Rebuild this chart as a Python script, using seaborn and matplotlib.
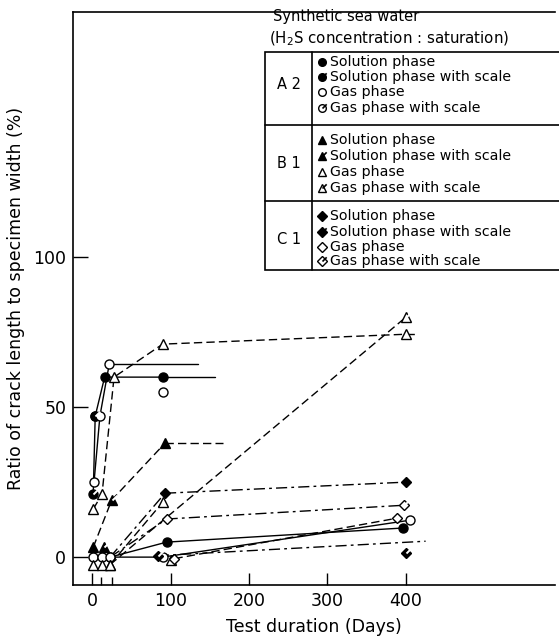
import numpy as np
import pandas as pd
import seaborn as sns
import matplotlib.pyplot as plt
from matplotlib.patches import Rectangle

# values (days, crack ratio %)
# A2 -- circles
a2_sol_days = [4, 16, 90]
a2_sol_vals = [47, 60, 60]
a2_sol_tail = 157
a2_solsc_days = [1.5, 4]
a2_solsc_vals = [21, 47]
a2_gas_days = [2.5, 10, 22]
a2_gas_vals = [25, 47, 64.5]
a2_gas_tail = 135
a2_gas_lone_days = [90]
a2_gas_lone_vals = [55]
a2_sol_low_days = [23, 95, 396]
a2_sol_low_vals = [0, 5, 9.7]
a2_gas_low_days = [1.5, 12.7, 23, 90, 405]
a2_gas_low_vals = [0, 0, 0, 0, 12.3]

# B1 -- triangles
b1_sol_days = [1.5, 25, 93]
b1_sol_vals = [3.3, 19, 38]
b1_sol_tail = 167
b1_solsc_days = [15]
b1_solsc_vals = [3.3]
b1_gas_days = [1.5, 12.7, 28, 90, 400]
b1_gas_vals = [16, 21, 60, 71, 74.3]
b1_gas_tail = 414
b1_gas_mid_days = [23, 90]
b1_gas_mid_vals = [-2.5, 18.3]
b1_gas_low_days = [1.5, 12.7, 100]
b1_gas_low_vals = [-2.5, -2.5, -1]
b1_gassc_days = [23, 400]
b1_gassc_vals = [-2.5, 80]

# C1 -- diamonds
c1_sol_days = [23, 93, 400]
c1_sol_vals = [0, 21.3, 25]
c1_solsc_days = [84, 425]
c1_solsc_vals = [0.5, 5.3]
c1_solsc_lone_days = [400]
c1_solsc_lone_vals = [1.3]
c1_gas_days = [23, 95, 398]
c1_gas_vals = [0, 12.7, 17.3]
c1_gas_low_days = [105, 389]
c1_gas_low_vals = [-0.5, 13]

x_ticks = [0, 100, 200, 300, 400]
x_minor = [12, 25]
y_ticks = [0, 50, 100]

legend_groups = ["A 2", "B 1", "C 1"]
legend_entries = ["Solution phase", "Solution phase with scale",
                  "Gas phase", "Gas phase with scale"]

sns.set_style("white")
plt.rcParams["font.family"] = ["DejaVu Sans"]
plt.rcParams["text.color"] = "black"
plt.rcParams["axes.labelcolor"] = "black"
plt.rcParams["xtick.color"] = "black"
plt.rcParams["ytick.color"] = "black"

fig = plt.figure(figsize=(5.59, 6.37), dpi=100)
ax = fig.add_axes([0.131, 0.0816, 0.862, 0.8995])

SCALE = [(0, 0), (1, 1)]
DASH = (0, (6, 3))
DASHDOT = (0, (8, 3, 2, 3))


def series(days, vals, marker, filled, ls, ms=6.5, tail=None):
    face = "black" if filled else "white"
    sns.lineplot(x=days, y=vals, ax=ax, sort=False, estimator=None,
                 color="black", lw=1.0, linestyle=ls, marker=marker,
                 markersize=ms, markerfacecolor=face, markeredgecolor="black",
                 markeredgewidth=1.0, zorder=3)
    if tail is not None:
        sns.lineplot(x=[days[-1], tail], y=[vals[-1], vals[-1]], ax=ax,
                     sort=False, estimator=None, color="black", lw=1.0,
                     linestyle=ls, zorder=2)


def scale_tick(days, vals):
    sns.lineplot(x=days, y=vals, ax=ax, sort=False, estimator=None,
                 color="black", linestyle="none", marker=SCALE,
                 markersize=7, markeredgewidth=1.4, zorder=4)


# A2
series(a2_sol_days, a2_sol_vals, "o", True, "-", tail=a2_sol_tail)
series(a2_solsc_days, a2_solsc_vals, "o", True, "-")
scale_tick(a2_solsc_days, a2_solsc_vals)
series(a2_gas_days, a2_gas_vals, "o", False, "-", tail=a2_gas_tail)
series(a2_gas_lone_days, a2_gas_lone_vals, "o", False, "none")
series(a2_sol_low_days, a2_sol_low_vals, "o", True, "-")
series(a2_gas_low_days, a2_gas_low_vals, "o", False, "-")

# B1
series(b1_sol_days, b1_sol_vals, "^", True, DASH, tail=b1_sol_tail)
series(b1_solsc_days, b1_solsc_vals, "^", True, "none")
scale_tick(b1_solsc_days, b1_solsc_vals)
scale_tick(b1_sol_days[1:2], b1_sol_vals[1:2])
series(b1_gas_days, b1_gas_vals, "^", False, DASH, tail=b1_gas_tail)
series(b1_gas_mid_days, b1_gas_mid_vals, "^", False, DASH)
series(b1_gas_low_days, b1_gas_low_vals, "^", False, "none")
series(b1_gassc_days, b1_gassc_vals, "^", False, DASH)
scale_tick(b1_gassc_days[1:], b1_gassc_vals[1:])

# C1
series(c1_sol_days[1:], c1_sol_vals[1:], "D", True, DASHDOT, ms=5.5)
sns.lineplot(x=c1_sol_days[:2], y=c1_sol_vals[:2], ax=ax, sort=False,
             estimator=None, color="black", lw=1.0, linestyle=DASHDOT)
sns.lineplot(x=c1_solsc_days, y=c1_solsc_vals, ax=ax, sort=False,
             estimator=None, color="black", lw=1.0, linestyle=DASHDOT)
series(c1_solsc_days[:1], c1_solsc_vals[:1], "D", True, "none", ms=5.5)
scale_tick(c1_solsc_days[:1], c1_solsc_vals[:1])
series(c1_solsc_lone_days, c1_solsc_lone_vals, "D", True, "none", ms=5.5)
scale_tick(c1_solsc_lone_days, c1_solsc_lone_vals)
series(c1_gas_days[1:], c1_gas_vals[1:], "D", False, DASHDOT, ms=5.5)
sns.lineplot(x=c1_gas_days[:2], y=c1_gas_vals[:2], ax=ax, sort=False,
             estimator=None, color="black", lw=1.0, linestyle=DASHDOT)
scale_tick(c1_gas_days[2:], c1_gas_vals[2:])
series(c1_gas_low_days, c1_gas_low_vals, "D", False, DASH, ms=5.5)

ax.set_xlim(-24, 590)
ax.set_ylim(-9.3, 181.7)
ax.set_xticks(x_ticks)
ax.set_xticks(x_minor, minor=True)
ax.set_yticks(y_ticks)
ax.tick_params(axis="both", which="major", direction="in", length=9,
               width=1, color="black", labelcolor="black", labelsize=12.5,
               pad=5)
ax.tick_params(axis="x", which="minor", direction="in", length=6,
               width=1, color="black", bottom=True)
ax.tick_params(axis="x", which="major", length=9, bottom=True)
ax.tick_params(axis="y", which="major", length=11, left=True)
ax.spines["right"].set_visible(False)
for s in ["left", "bottom", "top"]:
    ax.spines[s].set_color("black")
    ax.spines[s].set_linewidth(1.2)
ax.set_xlabel("Test duration (Days)", fontsize=12.5, labelpad=6,
              color="black")
ax.set_ylabel("Ratio of crack length to specimen width (%)", fontsize=12.5,
              labelpad=6, color="black")

# legend panel drawn in pixel coordinates
lg = fig.add_axes([0, 0, 1, 1], zorder=5)
lg.set_xlim(0, 559)
lg.set_ylim(637, 0)
lg.axis("off")
lg.patch.set_visible(False)

lg.text(273, 17, "Synthetic sea water", fontsize=10.5, va="center")
lg.text(269, 39, "(H$_2$S concentration : saturation)", fontsize=10.8,
        va="center")
lg.add_patch(Rectangle((265, 52), 300, 218, facecolor="white",
                       edgecolor="black", lw=1.2))
lg.plot([312, 312], [52, 270], color="black", lw=1.2)
for yy in [125, 201]:
    lg.plot([265, 565], [yy, yy], color="black", lw=1.2)

group_rows = [[62, 77, 92, 108], [140, 156, 172, 188], [216, 232, 247, 261]]
group_mark = ["o", "^", "D"]
for g, rows, mk in zip(legend_groups, group_rows, group_mark):
    lg.text(289, np.mean(rows), g, fontsize=10.5, ha="center", va="center")
    for i, (yy, label) in enumerate(zip(rows, legend_entries)):
        face = "black" if i < 2 else "white"
        lg.plot([322], [yy], marker=mk, markersize=5.5, color="black",
                markerfacecolor=face, markeredgewidth=1)
        if i % 2 == 1:
            lg.plot([322], [yy], marker=SCALE, markersize=6, color="black",
                    markeredgewidth=1.2, linestyle="none")
        lg.text(330, yy, label, fontsize=10.2, va="center")

fig.savefig("out.png", dpi=100)
